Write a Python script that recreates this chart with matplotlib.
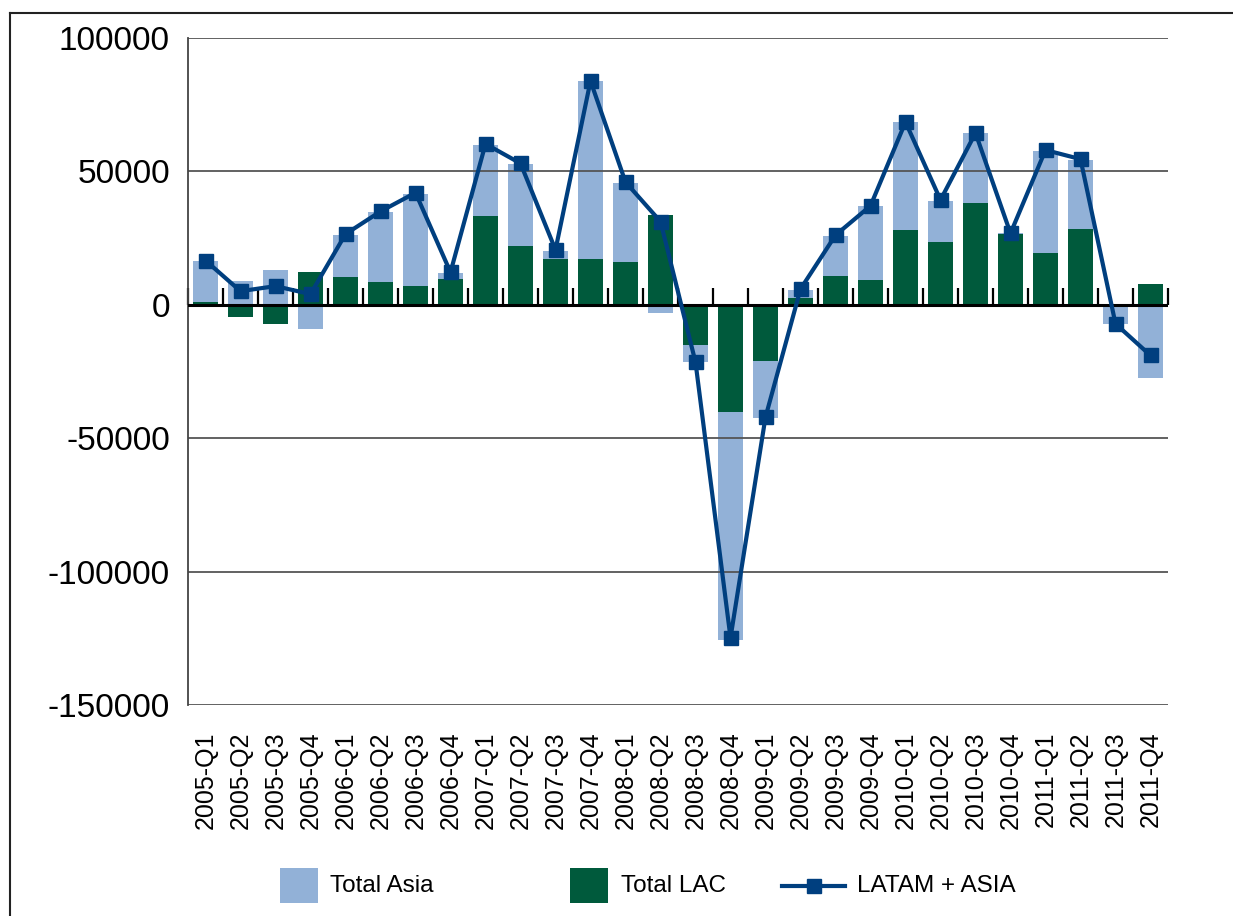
import matplotlib
matplotlib.use("Agg")
import matplotlib.pyplot as plt
from matplotlib.patches import Rectangle
from matplotlib.lines import Line2D
import numpy as np

quarters = ["2005-Q1", "2005-Q2", "2005-Q3", "2005-Q4",
            "2006-Q1", "2006-Q2", "2006-Q3", "2006-Q4",
            "2007-Q1", "2007-Q2", "2007-Q3", "2007-Q4",
            "2008-Q1", "2008-Q2", "2008-Q3", "2008-Q4",
            "2009-Q1", "2009-Q2", "2009-Q3", "2009-Q4",
            "2010-Q1", "2010-Q2", "2010-Q3", "2010-Q4",
            "2011-Q1", "2011-Q2", "2011-Q3", "2011-Q4"]

total_asia = [15500, 9000, 13000, -9000, 15700, 26200, 34500, 2500,
              26700, 30700, 3000, 66700, 29600, -3200, -6400, -85600,
              -21700, 2900, 14900, 27700, 40400, 15400, 26200, 300,
              38200, 25800, -7000, -27600]

total_lac = [1100, -4400, -7100, 12400, 10500, 8600, 7100, 9500,
             33300, 22100, 17200, 17200, 16100, 33700, -15200, -40100,
             -20900, 2700, 10900, 9400, 28100, 23600, 38200, 26600,
             19500, 28500, -300, 7900]

latam_asia = [16600, 5100, 7000, 4000, 26500, 35000, 42000, 12200,
              60300, 53000, 20600, 83900, 46000, 31200, -21500, -124800,
              -42100, 5900, 26100, 37100, 68500, 39300, 64400, 26800,
              58000, 54600, -7100, -19000]

y_ticks = [100000, 50000, 0, -50000, -100000, -150000]

FONT = "Liberation Sans"
C_ASIA = "#92B1D7"
C_LAC = "#005A3C"
C_LINE = "#003F7F"

fig = plt.figure(figsize=(12.33, 9.16), dpi=100)
ax = fig.add_axes([188/1233, 1-705/916, (1168-188)/1233, (705-38)/916])

x = np.arange(len(quarters))
lac = np.array(total_lac, dtype=float)
asia = np.array(total_asia, dtype=float)
asia_bottom = np.where(np.sign(asia) == np.sign(lac), lac, 0.0)

w = 0.74
ax.bar(x, lac, width=w, color=C_LAC, zorder=1, linewidth=0)
ax.bar(x, asia, width=w, bottom=asia_bottom, color=C_ASIA, zorder=1, linewidth=0)

ax.set_xlim(-0.5, len(quarters) - 0.5)
ax.set_ylim(-150000, 100000)
ax.set_yticks(y_ticks)
ax.set_yticklabels([str(v) for v in y_ticks], fontfamily=FONT, fontsize=24)
ax.tick_params(axis="y", length=0, pad=13)

for v in y_ticks:
    if v != 0:
        ax.axhline(v, color="#555555", lw=1.3, zorder=2)
ax.axhline(0, color="black", lw=2.2, zorder=3)

ax.set_xticks(x)
ax.set_xticklabels(quarters, rotation=90, fontfamily=FONT, fontsize=18)
ax.tick_params(axis="x", length=0, pad=19)

sec = ax.secondary_xaxis(0.6)
sec.set_xticks(np.arange(-0.5, len(quarters), 1.0))
sec.set_xticklabels([])
sec.tick_params(axis="x", direction="out", length=12, width=1.6, color="black")
sec.spines["bottom"].set_visible(False)
sec.spines["top"].set_visible(False)

ax.plot(x, latam_asia, color=C_LINE, lw=3.0, marker="s", markersize=9.5,
        zorder=5, clip_on=False)

for s in ["top", "right", "bottom"]:
    ax.spines[s].set_visible(False)
ax.spines["left"].set_color("#444444")
ax.spines["left"].set_linewidth(1.3)

# outer frame
fig.add_artist(Line2D([10/1233, 10/1233], [0, 1-13/916], transform=fig.transFigure,
                      color="#222222", lw=1.5))
fig.add_artist(Line2D([10/1233, 1], [1-13/916, 1-13/916], transform=fig.transFigure,
                      color="#222222", lw=1.5))

# legend
def fx(px):
    return px / 1233
def fy(py):
    return 1 - py / 916

fig.add_artist(Rectangle((fx(280), fy(903)), 38/1233, 35/916, transform=fig.transFigure,
                         facecolor=C_ASIA, edgecolor="none"))
fig.text(fx(330), fy(886), "Total Asia", fontfamily=FONT, fontsize=17.5, va="center", ha="left")
fig.add_artist(Rectangle((fx(570), fy(903)), 38/1233, 35/916, transform=fig.transFigure,
                         facecolor=C_LAC, edgecolor="none"))
fig.text(fx(621), fy(886), "Total LAC", fontfamily=FONT, fontsize=17.5, va="center", ha="left")
fig.add_artist(Line2D([fx(782), fx(845)], [fy(886), fy(886)], transform=fig.transFigure,
                      color=C_LINE, lw=3.0))
fig.add_artist(Line2D([fx(813.5)], [fy(886)], transform=fig.transFigure,
                      color=C_LINE, marker="s", markersize=9.5, lw=0))
fig.text(fx(857), fy(886), "LATAM + ASIA", fontfamily=FONT, fontsize=17.5, va="center", ha="left")

fig.savefig("out.png", dpi=100)
